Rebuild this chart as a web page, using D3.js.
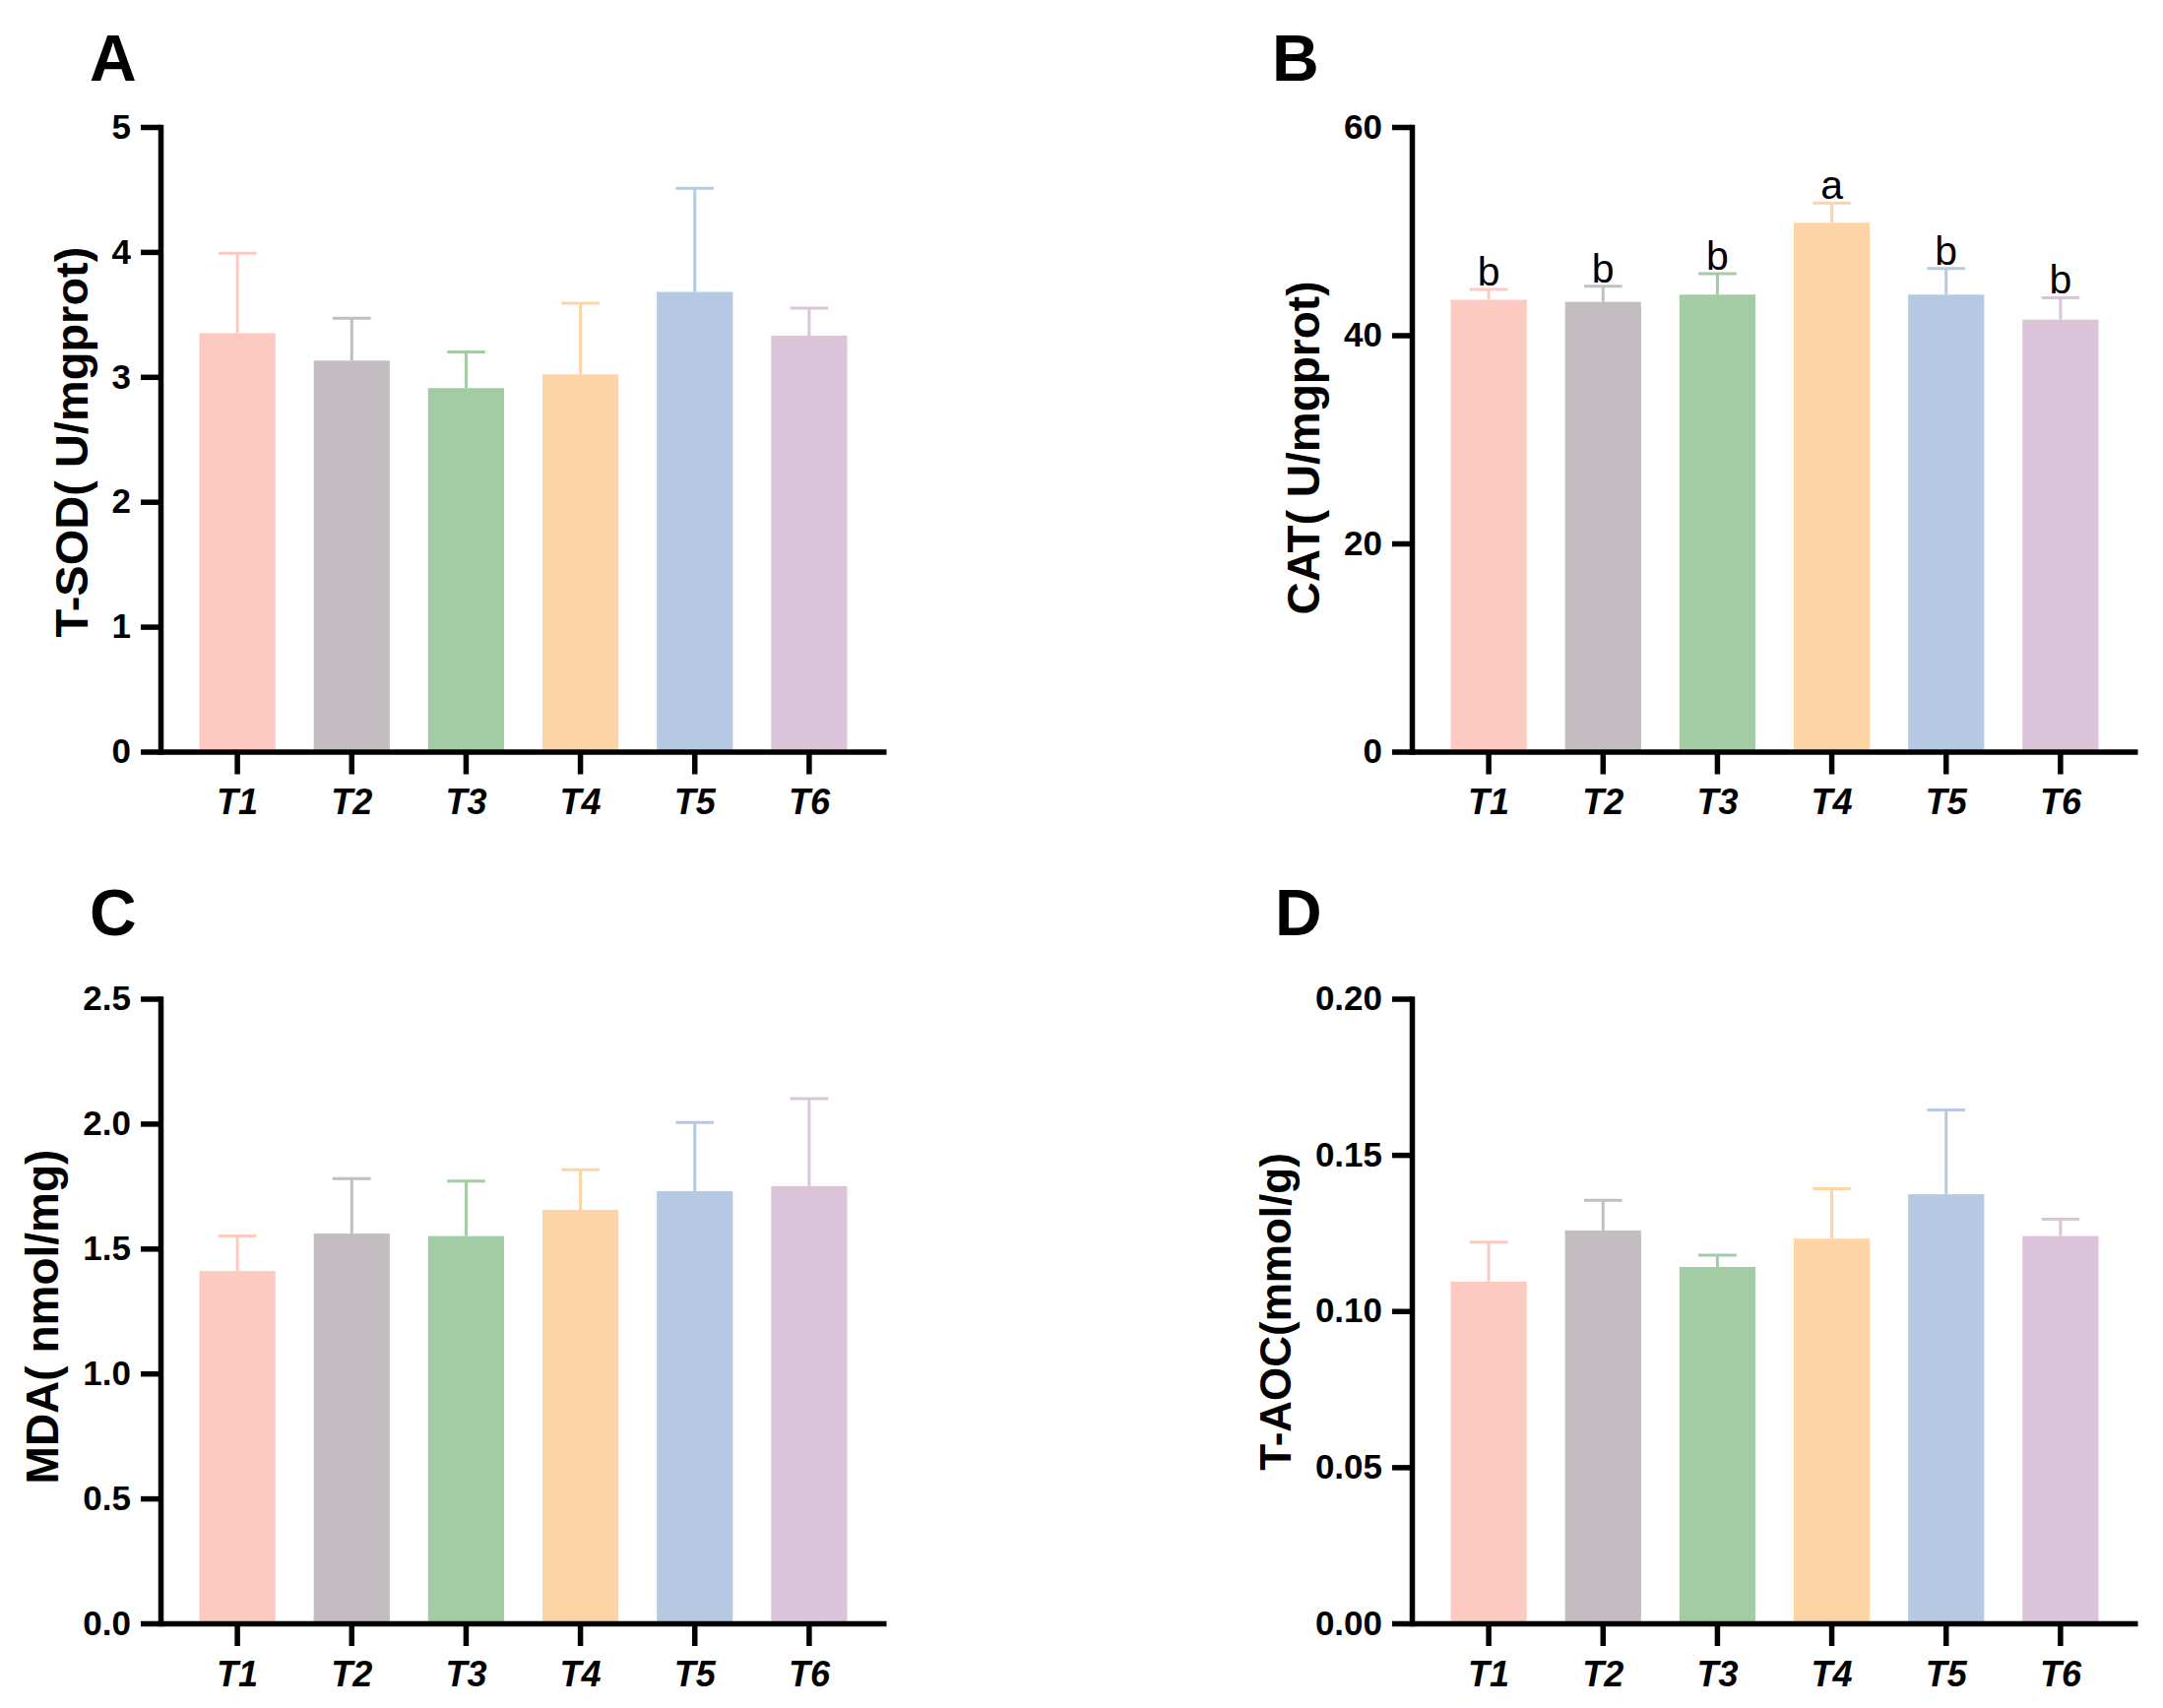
<!DOCTYPE html>
<html>
<head>
<meta charset="utf-8">
<script src="https://cdn.jsdelivr.net/npm/d3@7"></script>
<style>
  body { margin: 0; background: #fff; }
  text { font-family: "Liberation Sans", Arial, sans-serif; }
</style>
</head>
<body>
<script>
// groups and colours
var groups = ["T1", "T2", "T3", "T4", "T5", "T6"];
var colors = ["#FDCAC2", "#C3BDC1", "#A3CBA4", "#FDD4A6", "#B6C9E2", "#DBC3D9"];

// A: T-SOD
var sodMean = [3.35, 3.13, 2.91, 3.02, 3.68, 3.33];
var sodSD   = [0.64, 0.34, 0.29, 0.57, 0.83, 0.22];
var sodTicks = [0, 1, 2, 3, 4, 5];

// B: CAT
var catMean = [43.4, 43.2, 43.9, 50.8, 43.9, 41.5];
var catSD   = [1.0, 1.5, 2.0, 1.9, 2.5, 2.1];
var catLetters = ["b", "b", "b", "a", "b", "b"];
var catTicks = [0, 20, 40, 60];

// C: MDA
var mdaMean = [1.41, 1.56, 1.55, 1.655, 1.73, 1.75];
var mdaSD   = [0.14, 0.22, 0.22, 0.16, 0.275, 0.35];
var mdaTicks = [0, 0.5, 1.0, 1.5, 2.0, 2.5];

// D: T-AOC
var taocMean = [0.1094, 0.1258, 0.1141, 0.1232, 0.1374, 0.1240];
var taocSD   = [0.0127, 0.0097, 0.0038, 0.0160, 0.0270, 0.0054];
var taocTicks = [0, 0.05, 0.10, 0.15, 0.20];

var W = 2197, H = 1735;
var plotW = 737, plotH = 634.5;

var svg = d3.select("body").append("svg")
    .attr("width", W)
    .attr("height", H);

var panels = [
  { label: "A", lx: 91, ly: 82, left: 163, top: 129, title: "T-SOD( U/mgprot)", titleY: 320, titleSize: 47,
    mean: sodMean, sd: sodSD, ticks: sodTicks, fmt: "d", letters: null },
  { label: "B", lx: 1292, ly: 82, left: 1434, top: 129, title: "CAT( U/mgprot)", titleY: 326, titleSize: 46,
    mean: catMean, sd: catSD, ticks: catTicks, fmt: "d", letters: catLetters },
  { label: "C", lx: 91, ly: 950, left: 163, top: 1014.5, title: "MDA( nmol/mg)", titleY: 323, titleSize: 46,
    mean: mdaMean, sd: mdaSD, ticks: mdaTicks, fmt: ".1f", letters: null },
  { label: "D", lx: 1295, ly: 950, left: 1434, top: 1014.5, title: "T-AOC(mmol/g)", titleY: 318, titleSize: 44,
    mean: taocMean, sd: taocSD, ticks: taocTicks, fmt: ".2f", letters: null }
];

panels.forEach(drawPanel);

function drawPanel(p) {
  svg.append("text")
      .attr("x", p.lx)
      .attr("y", p.ly)
      .style("font-size", "66px")
      .style("font-weight", "bold")
      .text(p.label);

  var g = svg.append("g")
      .attr("transform", "translate(" + p.left + "," + p.top + ")");

  var x = d3.scaleBand()
      .domain(groups)
      .range([0, plotW])
      .paddingInner(0.335)
      .paddingOuter(0.34);
  var y = d3.scaleLinear()
      .domain([0, d3.max(p.ticks)])
      .range([plotH, 0]);
  var bw = x.bandwidth();

  var bar = g.selectAll("g.bar")
      .data(groups)
      .enter()
    .append("g")
      .attr("class", "bar");

  // error bar (upper only), same colour as the bar
  bar.append("line")
      .attr("x1", function(d) { return x(d) + bw / 2; })
      .attr("x2", function(d) { return x(d) + bw / 2; })
      .attr("y1", function(d, i) { return y(p.mean[i]); })
      .attr("y2", function(d, i) { return y(p.mean[i] + p.sd[i]); })
      .style("stroke", function(d, i) { return colors[i]; })
      .style("stroke-width", 3);
  bar.append("line")
      .attr("x1", function(d) { return x(d) + bw / 4; })
      .attr("x2", function(d) { return x(d) + bw * 3 / 4; })
      .attr("y1", function(d, i) { return y(p.mean[i] + p.sd[i]); })
      .attr("y2", function(d, i) { return y(p.mean[i] + p.sd[i]); })
      .style("stroke", function(d, i) { return colors[i]; })
      .style("stroke-width", 3);

  bar.append("rect")
      .attr("x", function(d) { return x(d); })
      .attr("y", function(d, i) { return y(p.mean[i]); })
      .attr("width", bw)
      .attr("height", function(d, i) { return plotH - y(p.mean[i]); })
      .style("fill", function(d, i) { return colors[i]; });

  if (p.letters) {
    bar.append("text")
        .attr("x", function(d) { return x(d) + bw / 2; })
        .attr("y", function(d, i) { return y(p.mean[i] + p.sd[i]) - 4; })
        .attr("text-anchor", "middle")
        .style("font-size", "41px")
        .text(function(d, i) { return p.letters[i]; });
  }

  // axes
  var yAxis = g.append("g")
      .call(d3.axisLeft(y)
        .tickValues(p.ticks)
        .tickFormat(d3.format(p.fmt))
        .tickSize(20)
        .tickSizeOuter(0)
        .tickPadding(10));
  var xAxis = g.append("g")
      .attr("transform", "translate(0," + plotH + ")")
      .call(d3.axisBottom(x)
        .tickSize(23)
        .tickSizeOuter(0)
        .tickPadding(15));

  [yAxis, xAxis].forEach(function(a) {
    a.attr("font-family", null).attr("font-size", null);
    a.select(".domain").style("stroke", "#000").style("stroke-width", 5.5);
    a.selectAll(".tick line").style("stroke", "#000").style("stroke-width", 5.5);
    a.selectAll(".tick text").style("fill", "#000").style("font-weight", "bold");
  });
  yAxis.select(".domain").style("stroke-linecap", "square");
  yAxis.selectAll(".tick text").style("font-size", "35px");
  xAxis.selectAll(".tick text").style("font-size", "36px").style("font-style", "italic");

  var bb = yAxis.node().getBBox();
  g.append("text")
      .attr("transform", "translate(" + (bb.x - 25) + "," + p.titleY + ") rotate(-90)")
      .attr("text-anchor", "middle")
      .style("font-size", p.titleSize + "px")
      .style("font-weight", "bold")
      .style("white-space", "pre")
      .text(p.title);
}
</script>
</body>
</html>
